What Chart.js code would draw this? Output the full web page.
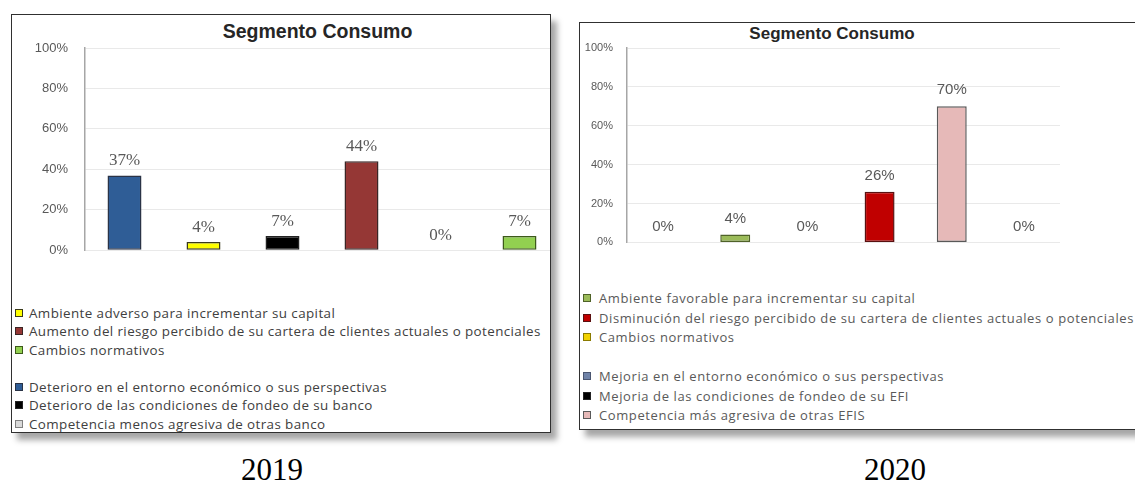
<!DOCTYPE html>
<html><head><meta charset="utf-8">
<script src="https://cdn.jsdelivr.net/npm/chart.js@4.4.1/dist/chart.umd.min.js"></script>
<style>
html,body{margin:0;padding:0;background:#fff;width:1135px;height:482px;overflow:hidden;position:relative;}
.panel{position:absolute;box-sizing:border-box;border:1px solid #303030;background:#fff;overflow:hidden;box-shadow:6px 7px 6px rgba(0,0,0,0.35);}
#p19{left:11px;top:14px;width:540px;height:419px;}
#p20{left:579px;top:22px;width:600px;height:408px;}
canvas{position:absolute;left:0;top:0;}
.title{position:absolute;font-family:'Liberation Sans',Arial,sans-serif;font-weight:bold;color:#262626;white-space:nowrap;text-align:center;width:300px;}
#t19{left:155.5px;top:6.3px;font-size:19.5px;line-height:20px;}
#t20{left:102px;top:1.6px;font-size:17px;line-height:17px;}
.legend{position:absolute;font-family:'Open Sans',sans-serif;white-space:nowrap;}
.legend .row{display:flex;align-items:center;}
.legend .sw{display:inline-block;box-sizing:border-box;width:8px;height:8px;border:1px solid #555;flex:none;}
#l19{left:3px;top:288.5px;font-size:13.4px;color:#404040;letter-spacing:0.4px;}
#l19 .row{height:18.5px;}
#l19 .sw{margin-right:6px;}
#l20{left:3px;top:265.25px;font-size:13px;color:#595959;letter-spacing:0.6px;}
#l20 .row{height:19.5px;}
#l20 .sw{margin-right:8px;}
.year{position:absolute;font-family:'Liberation Serif','Times New Roman',serif;font-size:31px;line-height:31px;height:31px;color:#000;text-align:center;width:200px;top:454px;}
</style></head><body>
<div class="panel" id="p19">
  <div class="title" id="t19">Segmento Consumo</div>
  <canvas id="c19" width="547" height="260" style="width:547px;height:260px"></canvas>
  <div class="legend" id="l19"></div>
</div>
<div class="panel" id="p20">
  <div class="title" id="t20">Segmento Consumo</div>
  <canvas id="c20" width="480" height="240" style="width:480px;height:240px"></canvas>
  <div class="legend" id="l20"></div>
</div>
<div class="year" style="left:172px">2019</div>
<div class="year" style="left:795px">2020</div>
<script>
// ---- data ----
const categories2019 = [
  "Deterioro en el entorno económico  o sus perspectivas",
  "Ambiente adverso para incrementar su capital",
  "Deterioro de las condiciones  de fondeo  de su banco",
  "Aumento del riesgo percibido de su cartera de clientes actuales o potenciales",
  "Competencia menos  agresiva de otras banco",
  "Cambios normativos"
];
const values2019 = [37, 4, 7, 44, 0, 7];
const categories2020 = [
  "Mejoria en el entorno económico o sus perspectivas",
  "Ambiente favorable para incrementar su capital",
  "Mejoria de las condiciones de fondeo de su EFI",
  "Disminución del riesgo percibido de su cartera de clientes actuales o potenciales",
  "Competencia más agresiva de otras EFIS",
  "Cambios normativos"
];
const values2020 = [0, 4, 0, 26, 70, 0];
const yTicks = [0, 20, 40, 60, 80, 100];
const legendOrder = [1, 3, 5, null, 0, 2, 4];

// ---- styles ----
const fill2019 = ['#2F5D96', '#FFFF00', '#000000', '#953735', '#D9D9D9', '#92D050'];
const edge2019 = ['#2a3346', '#3a3a1a', '#222222', '#3a2525', '#808080', '#3d5a1a'];
const fill2020 = ['#7083A8', '#9BBB59', '#000000', '#C00000', '#E6B9B8', '#F2D200'];
const edge2020 = ['#4a5570', '#4F6228', '#222222', '#5a1010', '#595959', '#8a7a00'];

function buildLegend(el, cats, fills, edges) {
  legendOrder.forEach(idx => {
    const row = document.createElement('div');
    row.className = 'row';
    if (idx !== null) {
      const sw = document.createElement('span');
      sw.className = 'sw';
      sw.style.background = fills[idx];
      sw.style.borderColor = edges[idx];
      row.appendChild(sw);
      const t = document.createElement('span');
      t.textContent = cats[idx];
      row.appendChild(t);
    }
    el.appendChild(row);
  });
}
buildLegend(document.getElementById('l19'), categories2019, fill2019, edge2019);
buildLegend(document.getElementById('l20'), categories2020, fill2020, edge2020);

const valueLabels = {
  id: 'valueLabels',
  afterDatasetsDraw(chart, args, opts) {
    const ctx = chart.ctx;
    const meta = chart.getDatasetMeta(0);
    const data = chart.data.datasets[0].data;
    ctx.save();
    ctx.font = opts.font;
    ctx.fillStyle = opts.color;
    ctx.textAlign = 'center';
    ctx.textBaseline = 'middle';
    meta.data.forEach((bar, i) => {
      ctx.fillText(data[i] + '%', bar.x, bar.y - opts.offset);
    });
    ctx.restore();
  }
};

function makeChart(id, cats, vals, fills, edges, cfg) {
  return new Chart(document.getElementById(id), {
    type: 'bar',
    data: {
      labels: cats,
      datasets: [{
        data: vals,
        backgroundColor: fills,
        borderColor: edges,
        borderWidth: c => (c.raw === 0 ? 0 : 1.5),
        borderSkipped: false,
        barPercentage: cfg.barPct,
        categoryPercentage: 1
      }]
    },
    options: {
      responsive: false,
      animation: false,
      events: [],
      layout: { padding: { top: cfg.padTop, bottom: cfg.padBottom, left: 0, right: 0 } },
      plugins: {
        legend: { display: false },
        tooltip: { enabled: false },
        title: { display: false },
        valueLabels: { font: cfg.labelFont, color: '#595959', offset: cfg.labelOffset }
      },
      scales: {
        x: { display: false },
        y: {
          min: 0, max: 100,
          afterBuildTicks: s => { s.ticks = yTicks.map(v => ({ value: v })); },
          afterFit: s => { s.width = cfg.axisWidth; },
          ticks: {
            callback: v => v + '%',
            color: '#595959',
            font: { family: "'Liberation Sans', Arial, sans-serif", size: cfg.tickSize },
            padding: cfg.tickPad
          },
          grid: { color: '#e9e9e9', lineWidth: 1, drawTicks: false },
          border: { display: true, color: '#a6a6a6', width: 1.5 }
        }
      }
    },
    plugins: [valueLabels]
  });
}

makeChart('c19', categories2019, values2019, fill2019, edge2019, {
  barPct: 0.43, padTop: 33, padBottom: 17, axisWidth: 73, tickSize: 13, tickPad: 17,
  labelFont: "17px 'Liberation Serif', 'Times New Roman', serif", labelOffset: 15
});
makeChart('c20', categories2020, values2020, fill2020, edge2020, {
  barPct: 0.415, padTop: 25, padBottom: 20, axisWidth: 47, tickSize: 11, tickPad: 14,
  labelFont: "15px 'Liberation Sans', Arial, sans-serif", labelOffset: 16
});
</script>
</body></html>
